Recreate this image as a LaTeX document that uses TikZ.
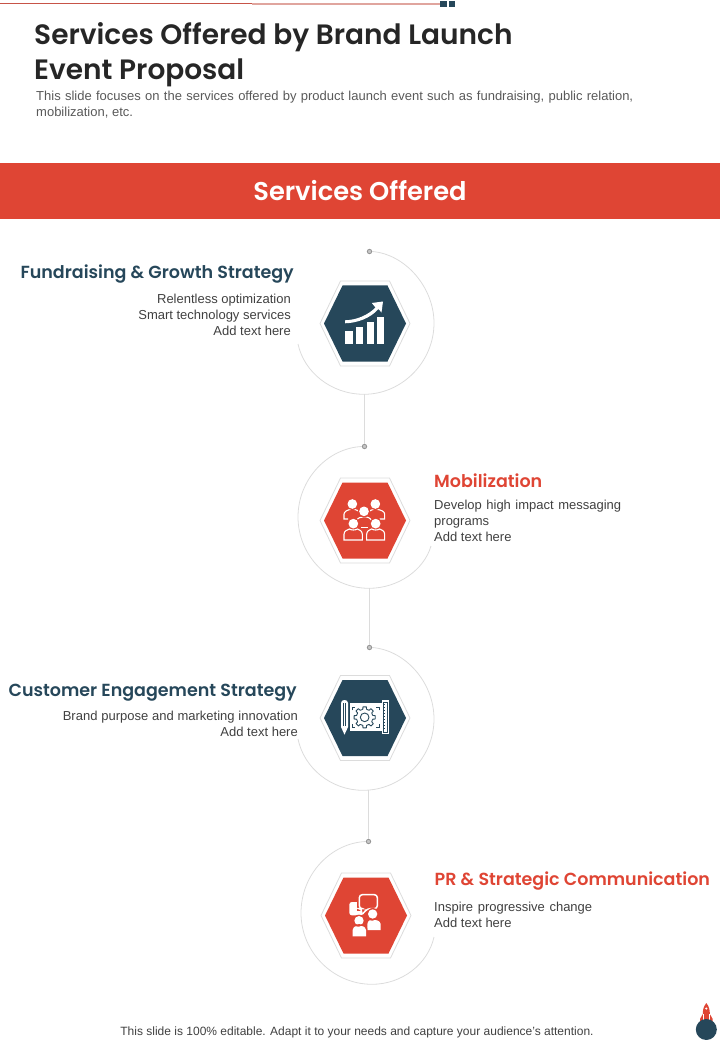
\documentclass[tikz,border=0pt]{standalone}
\usepackage{fontspec}
\setmainfont{Liberation Sans}
\newfontfamily\headfont{Poppins}[BoldFont={Poppins SemiBold},Scale=1]
\definecolor{navy}{HTML}{26475A}
\definecolor{brick}{HTML}{DF4534}
\definecolor{ringgrey}{HTML}{DCDCDC}
\definecolor{bodygrey}{HTML}{404040}
\tikzset{
 ring/.style={draw=ringgrey,line width=0.8pt},
 link/.style={draw=ringgrey,line width=1pt},
 dotn/.style={circle,draw=gray!85,fill=gray!45,line width=0.8pt,minimum size=4.4pt,inner sep=0pt},
 hexo/.style={draw=ringgrey,fill=white,line width=0.8pt},
 heading/.style={font=\headfont\fontsize{17.5}{20}\selectfont\bfseries,inner sep=0pt},
 body/.style={font=\fontsize{13}{16}\selectfont,text=bodygrey,inner sep=0pt},
 wl/.style={white,line width=1.1pt},
 nl/.style={navy,line width=0.9pt},
 iconscale/.style={x=0.3333pt,y=-0.3333pt},
}
\newcommand{\hexpair}[3]{% cx, cy, colour
 \path[hexo] (#1-45,#2) -- (#1-24.5,#2-42.5) -- (#1+24.5,#2-42.5) -- (#1+45,#2) -- (#1+24.5,#2+42.5) -- (#1-24.5,#2+42.5) -- cycle;
 \fill[#3] (#1-41,#2) -- (#1-22.5,#2-38) -- (#1+22.5,#2-38) -- (#1+41,#2) -- (#1+22.5,#2+38) -- (#1-22.5,#2+38) -- cycle;
}
\begin{document}
\begin{tikzpicture}[x=1pt,y=-1pt]
\useasboundingbox (0,0) rectangle (720,1040);
% top rule
\fill[brick!75!gray] (0,3.1) rectangle (252,4.3);
\fill[brick!45!white!85!gray] (252,2.7) rectangle (440,5);
\fill[navy] (440,1) rectangle (446.5,6.8);
\fill[navy] (448.5,1) rectangle (455,6.8);
% title
\node[anchor=north west,inner sep=0pt,align=left,font=\headfont\fontsize{28}{35}\selectfont\bfseries,text=black!85] (title) at (34,22) {Services Offered by Brand Launch\\Event Proposal};
\node[anchor=north west,body,align=left,text=black!65] (sub) at (36,90.5) {\makebox[597pt][s]{This slide focuses on the services offered  by product launch event such as fundraising, public relation,}\\mobilization, etc.};
% banner
\fill[brick] (0,163) rectangle (720,219);
\node[font=\headfont\fontsize{25.7}{30}\selectfont\bfseries,text=white,inner sep=0pt] (banner) at (360,191) {Services Offered};
% rings
\node[dotn] (d1) at (369.5,251.5) {};
\node[dotn] (d2) at (364.5,446.5) {};
\node[dotn] (d3) at (369.5,647.5) {};
\node[dotn] (d4) at (368.5,841.5) {};
\coordinate (b1) at (364.5,394.3);
\coordinate (b2) at (369.5,588.3);
\coordinate (b3) at (368.5,790.3);
\draw[link] (b1) -- (d2);
\draw[link] (b2) -- (d3);
\draw[link] (b3) -- (d4);
\begin{scope}[ring]
\draw (d1.east) .. controls (405,254) and (434,287) .. (434,323) .. controls (434,362) and (402,394.3) .. (364,394.3) .. controls (331,394.3) and (304,372) .. (298,344);
\draw (d2.west) .. controls (328,448) and (298,479) .. (298,517) .. controls (298,556) and (330,588.3) .. (369,588.3) .. controls (398,588.3) and (424,570) .. (431,546);
\draw (d3.east) .. controls (405,650) and (434,682) .. (434,719) .. controls (434,758) and (402,790.3) .. (363,790.3) .. controls (331,790.3) and (304,768) .. (298,739);
\draw (d4.west) .. controls (331,843) and (301,874) .. (301,913) .. controls (301,952) and (333,984.3) .. (372,984.3) .. controls (402,984.3) and (428,964) .. (434,937);
\end{scope}
% hexagons
\hexpair{365}{323.5}{navy}
\hexpair{365}{520.5}{brick}
\hexpair{365}{718}{navy}
\hexpair{366}{915.5}{brick}
% icon 1
\fill[white] (345.3,331.3) rectangle (352.7,344);
\fill[white] (356,326.7) rectangle (363.3,344);
\fill[white] (366.7,322.3) rectangle (373.7,344);
\fill[white] (376.7,317.3) rectangle (384,344);
\fill[white] (345,320.3) .. controls (357,320) and (368,315) .. (375.5,307.5) -- (371.8,303) -- (383,301.5) -- (381.5,312.5) -- (378.5,309) .. controls (370,318.5) and (357,323) .. (345,323.3) -- cycle;
% icon 2
\begin{scope}[shift={(338,495)},iconscale]
\draw[wl] (30,72) -- (18,72) -- (18,58) .. controls (18,50) and (26,45) .. (43,42) .. controls (56,44) and (64,48) .. (66,54);
\draw[wl] (125,72) -- (140,72) -- (140,58) .. controls (140,50) and (132,45) .. (112,42) .. controls (100,44) and (92,48) .. (90,54);
\draw[wl] (54,78) .. controls (60,68) and (68,66) .. (78,65) .. controls (90,66) and (96,68) .. (102,78);
\draw[wl] (70,97) -- (90,97);
\foreach \h in {(43,27),(112,27),(78,49),(46,86),(113,86)} {\fill[brick] \h circle (18); \fill[white] \h circle (14.5);}
\draw[wl] (18,135) -- (18,118) .. controls (18,108) and (28,104) .. (34,102) .. controls (40,106) and (52,106) .. (58,102) .. controls (64,104) and (73,108) .. (73,118) -- (73,135) -- cycle;
\draw[wl] (86,135) -- (86,118) .. controls (86,108) and (95,104) .. (101,102) .. controls (107,106) and (119,106) .. (125,102) .. controls (131,104) and (140,108) .. (140,118) -- (140,135) -- cycle;
\end{scope}
% icon 3
\begin{scope}[shift={(338,695)},iconscale]
\fill[white] (36,25) rectangle (131,108);
\fill[white] (9,24) .. controls (9,12) and (30,12) .. (30,24) -- (30,96) -- (19.5,119) -- (9,96) -- cycle;
\draw[navy,line width=0.6pt] (16,24) -- (16,94) (23,24) -- (23,94);
\fill[white] (131,15) rectangle (152,118);
\draw[navy,line width=0.8pt] (137,21) rectangle (147,112);
\foreach \yy in {29,38,...,105} \draw[navy,line width=0.6pt] (137,\yy) -- (142,\yy);
\draw[nl] (42,46) -- (42,36) -- (52,36) (42,88) -- (42,98) -- (52,98) (124,46) -- (124,36) -- (114,36) (124,88) -- (124,98) -- (114,98);
\foreach \a in {0,45,...,315} {
 \draw[nl,shift={(80,67)},line join=round] ({\a-22.5}:24.5) -- ({\a-13}:25) -- ({\a-9}:32) -- ({\a+9}:32) -- ({\a+13}:25) -- ({\a+22.5}:24.5);
}
\draw[nl] (80,67) circle (13);
\end{scope}
% icon 4
\begin{scope}[shift={(340,888)},iconscale]
\fill[white,rounded corners=2.5pt] (28,42) rectangle (66,82);
\fill[brick] (50,14) rectangle (120,70);
\draw[white,line width=1.5pt,rounded corners=3pt,fill=brick] (58,20) -- (112,20) -- (112,62) -- (82,62) -- (63,83) -- (66,62) -- (58,62) -- cycle;
\fill[brick] (57,98) circle (18);
\fill[brick] (98,78) circle (18);
\fill[white] (57,98) circle (14);
\fill[white] (98,78) circle (14);
\fill[white] (82,126) -- (82,108) .. controls (84,96) and (92,94) .. (98,98) .. controls (104,94) and (120,96) .. (122,108) -- (122,126) -- cycle;
\fill[brick] (33,148) -- (33,122) .. controls (36,104) and (78,104) .. (82,122) -- (82,148) -- cycle;
\fill[white] (38,145) -- (38,126) .. controls (40,114) and (50,112) .. (57,116) .. controls (64,112) and (76,114) .. (78,126) -- (78,145) -- cycle;
\end{scope}
% texts
\node[heading,anchor=base east,text=navy] (h1) at (294,279) {Fundraising \& Growth Strategy};
\node[body,anchor=north east,align=right] (t1) at (291,293.5) {Relentless optimization\\Smart technology services\\Add text here};
\node[heading,anchor=base west,text=brick] (h2) at (434,487) {Mobilization};
\node[body,anchor=north west,align=left] (t2) at (434,499.5) {\makebox[187pt][s]{Develop high impact messaging}\\programs\\Add text here};
\node[heading,anchor=base east,text=navy] (h3) at (297,696.5) {Customer Engagement Strategy};
\node[body,anchor=north east,align=right] (t3) at (298,710.5) {\makebox[235pt][s]{Brand purpose and marketing innovation}\\Add text here};
\node[heading,anchor=base west,text=brick] (h4) at (434.5,885) {PR \& Strategic Communication};
\node[body,anchor=north west,align=left] (t4) at (434,901.5) {\makebox[158pt][s]{Inspire progressive  change}\\Add text here};
\node[font=\fontsize{12}{14}\selectfont,text=bodygrey,inner sep=0pt,anchor=base] (foot) at (357,1035) {This slide is 100\% editable. Adapt it to your needs and capture your audience's attention.};
% rocket
\fill[brick] (706.3,1003) .. controls (703,1007) and (702.8,1011) .. (702.8,1014) -- (700,1019) -- (700,1022) -- (712.7,1022) -- (712.7,1019) -- (709.8,1014) .. controls (709.8,1011) and (709.6,1007) .. (706.3,1003) -- cycle;
\draw[white,line width=0.4pt] (703,1014) -- (703,1022) (709.6,1014) -- (709.6,1022);
\fill[white] (706.3,1008.5) circle (1.2);
\fill[navy] (706.3,1029.5) circle (10.5);
\end{tikzpicture}
\end{document}
